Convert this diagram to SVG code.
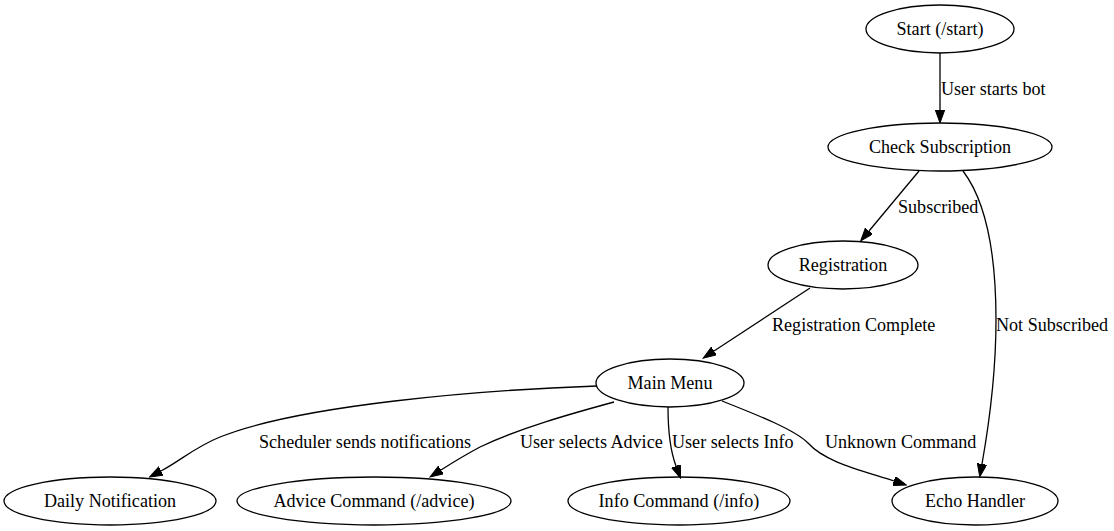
<svg xmlns="http://www.w3.org/2000/svg" width="1114" height="531" viewBox="0 0 1114 531">
<style>
.n ellipse{fill:none;stroke:#000;stroke-width:1.3}
text{font-family:"Liberation Serif","Times New Roman",Times,serif;font-size:18.1px;fill:#000}
.n text{text-anchor:middle}
.e path{fill:none;stroke:#000;stroke-width:1.3}
</style>
<defs>
<marker id="a" markerUnits="userSpaceOnUse" markerWidth="14" markerHeight="10" refX="0" refY="4.7" orient="auto">
<path d="M0,0 L13,4.7 L0,9.4 z" fill="#000" stroke="#000" stroke-width="1"/>
</marker>
</defs>
<rect width="1114" height="531" fill="#fff"/>
<g class="e" id="edges">
<path d="M940,53 L940,110" marker-end="url(#a)"/>
<text x="941" y="95">User starts bot</text>
<path d="M919,171 L869,231" marker-end="url(#a)"/>
<text x="898" y="213">Subscribed</text>
<path d="M963,171 C985,200 996,250 996,320 C996,380 988,430 982,464" marker-end="url(#a)"/>
<text x="996" y="331">Not Subscribed</text>
<path d="M810,288 L714,351" marker-end="url(#a)"/>
<text x="772" y="331">Registration Complete</text>
<path d="M597,386 C480,390 300,405 220,437 C195,447 180,461 161,471" marker-end="url(#a)"/>
<text x="259" y="448">Scheduler sends notifications</text>
<path d="M614,402 C570,414 520,428 480,447 C465,455 452,463 441,470" marker-end="url(#a)"/>
<text x="520" y="448">User selects Advice</text>
<path d="M668,407 C668,430 670,450 676,466" marker-end="url(#a)"/>
<text x="672" y="448">User selects Info</text>
<path d="M722,401 C760,416 795,430 808,443 C825,462 860,470 894,481" marker-end="url(#a)"/>
<text x="825" y="448">Unknown Command</text>
</g>
<g class="n" id="start"><ellipse cx="940" cy="29" rx="74" ry="24"/><text x="940" y="35">Start (/start)</text></g>
<g class="n" id="check"><ellipse cx="940" cy="147" rx="112" ry="24"/><text x="940" y="153">Check Subscription</text></g>
<g class="n" id="registration"><ellipse cx="843" cy="265" rx="75" ry="24"/><text x="843" y="271">Registration</text></g>
<g class="n" id="mainmenu"><ellipse cx="670" cy="383" rx="74" ry="24"/><text x="670" y="389">Main Menu</text></g>
<g class="n" id="daily"><ellipse cx="110" cy="501" rx="106" ry="24"/><text x="110" y="507">Daily Notification</text></g>
<g class="n" id="advice"><ellipse cx="374" cy="501" rx="137" ry="24"/><text x="374" y="507">Advice Command (/advice)</text></g>
<g class="n" id="info"><ellipse cx="679" cy="501" rx="111" ry="24"/><text x="679" y="507">Info Command (/info)</text></g>
<g class="n" id="echo"><ellipse cx="975" cy="501" rx="83" ry="24"/><text x="975" y="507">Echo Handler</text></g>
</svg>
